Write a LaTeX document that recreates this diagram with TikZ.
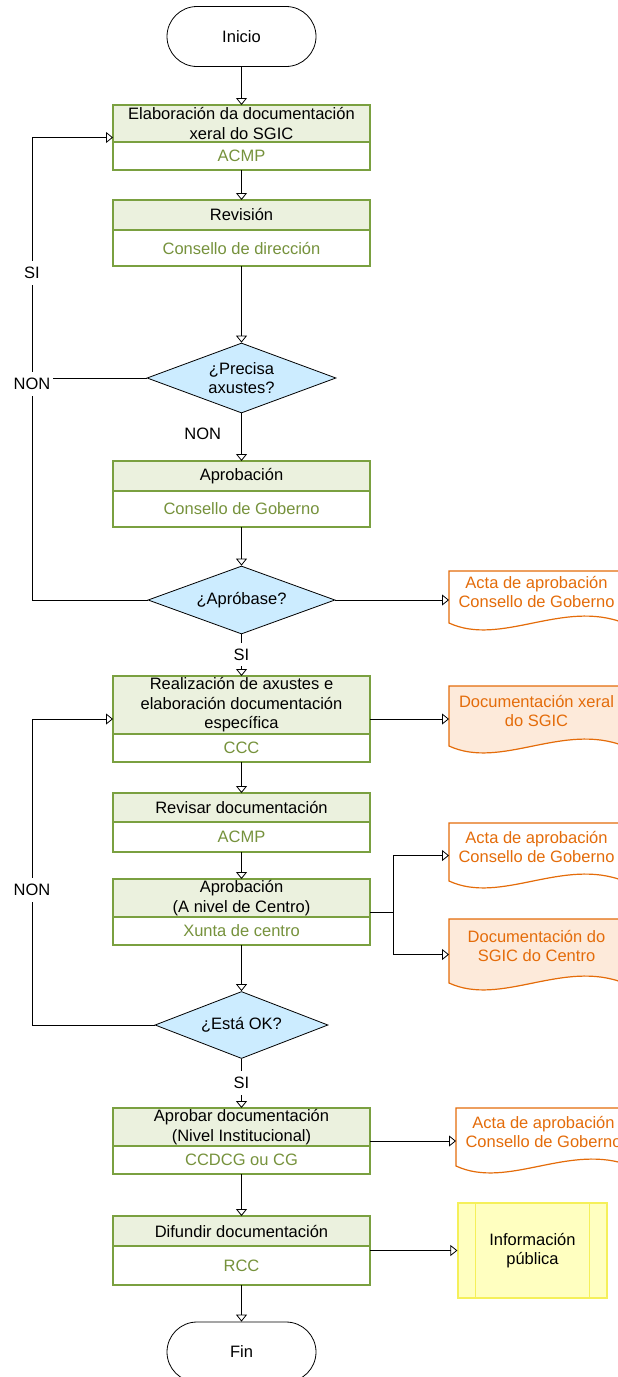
\documentclass[tikz,border=0pt]{standalone}
\usepackage{fontspec}
\setmainfont{Liberation Sans}
\usetikzlibrary{shapes.geometric, shapes.misc, arrows.meta, fit, calc, backgrounds}

\definecolor{verde}{RGB}{122,160,64}
\definecolor{verdetexto}{RGB}{118,146,60}
\definecolor{verdeclaro}{RGB}{235,241,222}
\definecolor{azul}{RGB}{204,236,255}
\definecolor{laranxa}{RGB}{228,108,10}
\definecolor{laranxaclaro}{RGB}{253,234,218}
\definecolor{amarelo}{RGB}{255,255,192}
\definecolor{amareloborde}{RGB}{245,240,90}

\tikzset{
  base/.style={font=\fontsize{16.5}{19.5}\selectfont, align=center, inner sep=0pt},
  terminal/.style={base, draw, rounded rectangle, minimum width=149pt, minimum height=60pt, line width=0.8pt},
  tarefa/.style={base, draw=verde, line width=1.6pt, fill=verdeclaro, outer sep=0pt,
    minimum width=257pt, minimum height=#1pt, anchor=north},
  responsable/.style={base, draw=verde, line width=1.6pt, fill=white, text=verdetexto, outer sep=0pt,
    minimum width=257pt, minimum height=#1pt, anchor=north},
  caixa/.style={inner sep=0pt, outer sep=0pt},
  decision/.style={base, diamond, draw, fill=azul, aspect=2.7, line width=0.8pt},
  documento/.style={inner sep=0pt, outer sep=0pt, minimum width=175pt, minimum height=#1pt, anchor=north west},
  documentotexto/.style={base, text=laranxa},
  informacion/.style={base, draw=amareloborde, fill=amarelo, line width=1.2pt, minimum width=149pt, minimum height=95pt},
  rotulo/.style={base, fill=white, inner xsep=2pt, inner ysep=6pt},
  conector/.style={line width=0.8pt},
  seta/.style={conector, -{Triangle[open, length=7pt, width=11pt]}},
}

\begin{document}
\begin{tikzpicture}[x=1pt, y=-1pt]
  \useasboundingbox (0,0) rectangle (618,1377);
  \clip (0,0) rectangle (618,1377);

  % Inicio
  \node[terminal] (inicio) at (241.5,36.5) {Inicio};

  % Caixas de tarefa: parte superior (tarefa) e inferior (responsable)
  \node[tarefa=37] (elab) at (241.5,105) {Elaboración da documentación\\xeral do SGIC};
  \node[responsable=28] (elabR) at (elab.south) {ACMP};
  \node[caixa, fit=(elab)(elabR)] (elabBox) {};

  \node[tarefa=30] (revision) at (241.5,200) {Revisión};
  \node[responsable=36] (revisionR) at (revision.south) {Consello de dirección};

  \node[decision, minimum width=189pt, minimum height=70pt] (dec1) at (241.5,378) {¿Precisa\\axustes?};

  \node[tarefa=30] (aprob) at (241.5,461) {Aprobación};
  \node[responsable=36] (aprobR) at (aprob.south) {Consello de Goberno};

  \node[decision, minimum width=187pt, minimum height=68pt] (dec2) at (241.5,600) {¿Apróbase?};

  \node[tarefa=58] (realiz) at (241.5,676) {Realización de axustes e\\elaboración documentación\\específica};
  \node[responsable=28] (realizR) at (realiz.south) {CCC};
  \node[caixa, fit=(realiz)(realizR)] (realizBox) {};

  \node[tarefa=29] (revisar) at (241.5,793) {Revisar documentación};
  \node[responsable=30] (revisarR) at (revisar.south) {ACMP};

  \node[tarefa=38] (aprobc) at (241.5,879) {Aprobación\\(A nivel de Centro)};
  \node[responsable=28] (aprobcR) at (aprobc.south) {Xunta de centro};
  \node[caixa, fit=(aprobc)(aprobcR)] (aprobcBox) {};

  \node[decision, minimum width=173pt, minimum height=67pt] (dec3) at (241.5,1025) {¿Está OK?};

  \node[tarefa=38] (aprobar) at (241.5,1108) {Aprobar documentación\\(Nivel Institucional)};
  \node[responsable=28] (aprobarR) at (aprobar.south) {CCDCG ou CG};
  \node[caixa, fit=(aprobar)(aprobarR)] (aprobarBox) {};

  \node[tarefa=30] (difundir) at (241.5,1216) {Difundir documentación};
  \node[responsable=39] (difundirR) at (difundir.south) {RCC};
  \node[caixa, fit=(difundir)(difundirR)] (difundirBox) {};

  % Fin
  \node[terminal] (fin) at (241.5,1352) {Fin};

  % Documentos (texto algo por riba do centro, pola onda inferior)
  \node[documento=59] (acta1) at (449,571) {};
  \node[documentotexto] (acta1T) at ([yshift=8.5pt]acta1.center) {Acta de aprobación\\Consello de Goberno};
  \node[documento=67] (docxeral) at (449,686) {};
  \node[documentotexto] (docxeralT) at ([yshift=8.5pt]docxeral.center) {Documentación xeral\\do SGIC};
  \node[documento=65] (acta2) at (449,823) {};
  \node[documentotexto] (acta2T) at ([yshift=8.5pt]acta2.center) {Acta de aprobación\\Consello de Goberno};
  \node[documento=71] (doccentro) at (449,919) {};
  \node[documentotexto] (doccentroT) at ([yshift=8.5pt]doccentro.center) {Documentación do\\SGIC do Centro};
  \node[documento=65] (acta3) at (456,1108) {};
  \node[documentotexto] (acta3T) at ([yshift=8.5pt]acta3.center) {Acta de aprobación\\Consello de Goberno};

  \begin{scope}[on background layer]
    \foreach \nome/\cor in {acta1/white, docxeral/laranxaclaro, acta2/white, doccentro/laranxaclaro, acta3/white}
      \filldraw[draw=laranxa, fill=\cor, line width=1.2pt]
        (\nome.north west) -- (\nome.north east) -- ($(\nome.south east)+(0,-7)$)
        .. controls ($(\nome.south west)+(114,-31)$) and ($(\nome.south west)+(52,17)$) .. ($(\nome.south west)+(0,-7)$)
        -- cycle;
  \end{scope}

  % Información pública
  \node[informacion] (info) at (532.5,1250.5) {Información\\pública};
  \draw[amareloborde, line width=1.2pt] ([xshift=18pt]info.north west) -- ([xshift=18pt]info.south west)
    ([xshift=-18pt]info.north east) -- ([xshift=-18pt]info.south east);

  % Rótulos da esquerda
  \node[rotulo] (siA) at (32,273) {SI};
  \node[rotulo] (nonA) at (32,384) {NON};
  \node[rotulo] (nonB) at (32,890) {NON};

  % Fluxo principal
  \draw[seta] (inicio) -- (elab);
  \draw[seta] (elabR) -- (revision);
  \draw[seta] (revisionR) -- (dec1);
  \draw[seta] (dec1) -- node[base, anchor=east, xshift=-20pt, pos=0.42] (nonC) {NON} (aprob);
  \draw[seta] (aprobR) -- (dec2);
  \draw[seta] (dec2) -- node[rotulo, pos=0.48] (siB) {SI} (realiz);
  \draw[seta] (realizR) -- (revisar);
  \draw[seta] (revisarR) -- (aprobc);
  \draw[seta] (aprobcR) -- (dec3);
  \draw[seta] (dec3) -- node[rotulo, pos=0.49] (siC) {SI} (aprobar);
  \draw[seta] (aprobarR) -- (difundir);
  \draw[seta] (difundirR) -- (fin);

  % Voltas
  \draw[conector] (dec1.west) -- (dec1.west -| nonA.east);
  \draw[conector] (dec2.west) -| (nonA.south);
  \draw[conector] (nonA.north) -- (siA.south);
  \draw[seta] (siA.north) |- (elabBox.west);
  \draw[conector] (dec3.west) -| (nonB.south);
  \draw[seta] (nonB.north) |- (realizBox.west);

  % Saídas cara aos documentos
  \draw[seta] (dec2.east) -- (dec2.east -| acta1.west);
  \draw[seta] (realizBox.east) -- (realizBox.east -| docxeral.west);
  \draw[conector] (aprobcBox.east) -- ++(23,0) coordinate (ramal);
  \draw[seta] (ramal) |- (acta2.west);
  \draw[seta] (ramal) |- (doccentro.west);
  \draw[seta] (aprobarBox.east) -- (aprobarBox.east -| acta3.west);
  \draw[seta] (difundirBox.east) -- (info.west);
\end{tikzpicture}
\end{document}
